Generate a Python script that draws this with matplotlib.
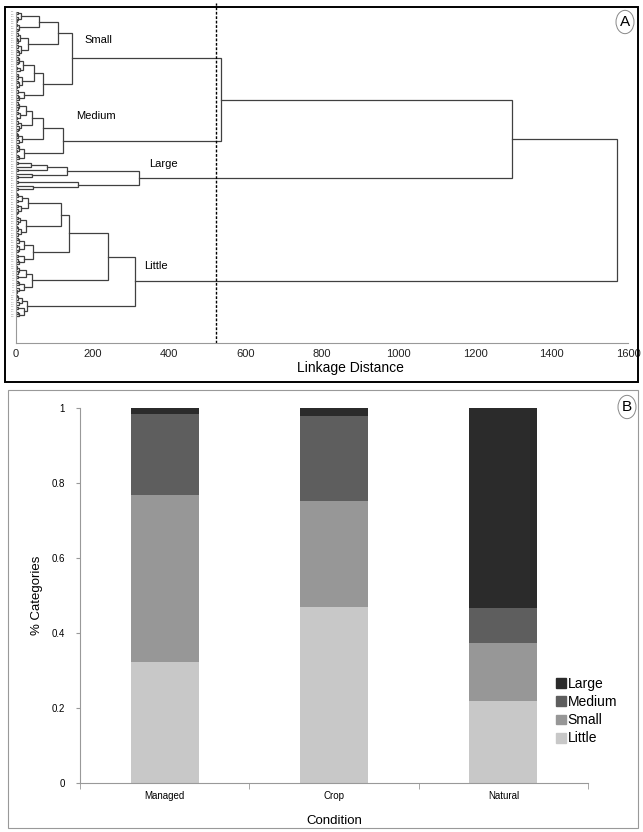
import matplotlib
matplotlib.use('Agg')
import matplotlib.pyplot as plt
from matplotlib.patches import Rectangle, Circle, Patch

plt.rcParams['font.family'] = ['Liberation Sans', 'DejaVu Sans']

W, H = 643, 832

# ---------- data: panel A (dendrogram), leaf = None ----------
o = None
small = (146,
         (110,
          (60, (12, (4, o, o), (6, o, (3, o, o))), (8, (3, o, o), (5, o, o))),
          (32, (10, (4, o, o), (6, (3, o, o), o)), (12, (5, o, o), (7, (4, o, o), o)))),
         (70,
          (47, (18, (8, (4, o, o), (5, o, o)), (10, (3, o, o), o)),
               (15, (6, (4, o, o), o), (9, (5, o, o), (3, o, o)))),
          (21, (5, o, o), (8, (4, o, o), o))))
medium = (124,
          (71,
           (42, (27, (8, (4, o, o), (5, o, o)), (10, (6, o, o), (3, o, o))),
                (12, (5, o, o), (7, o, (4, o, o)))),
           (15, (6, (3, o, o), o), (8, o, o))),
          (22, (7, (4, o, o), (3, o, o)), (9, (5, o, o), o)))
large = (322,
         (134, (82, (38, (4, o, o), o), (6, o, o)), (42, o, (5, o, o))),
         (163, (6, o, o), (45, o, (5, o, o))))
little = (311,
          (240,
           (138,
            (118,
             (31, (15, (6, (3, o, o), o), (5, o, o)), (12, (4, o, o), (6, o, (3, o, o)))),
             (26, (10, (4, o, o), (5, o, o)), (14, (6, (3, o, o), o), (4, o, o)))),
            (45, (22, (7, (4, o, o), o), (9, (3, o, o), (5, o, o))),
                 (20, (6, o, o), (8, (4, o, o), o)))),
           (42, (25, (8, (3, o, o), (5, o, o)), (6, o, o)),
                (22, (7, (4, o, o), o), (9, o, (3, o, o))))),
          (28, (15, (6, (3, o, o), o), (8, o, o)), (20, (5, o, o), (7, (4, o, o), o))))
tree = (1570, (1297, (536, small, medium), large), little)
cut_distance = 524
cluster_names = ['Small', 'Medium', 'Large', 'Little']

# ---------- data: panel B (stacked bars) ----------
conditions = ['Managed', 'Crop', 'Natural']
little_v = [0.323, 0.470, 0.218]
small_v = [0.445, 0.282, 0.155]
medium_v = [0.216, 0.226, 0.095]
large_v = [0.016, 0.022, 0.532]

fig = plt.figure(figsize=(W / 100, H / 100), dpi=100)


def rect(l, t, r, b):
    return [l / W, 1 - b / H, (r - l) / W, (b - t) / H]


# panel frames
fig.patches.append(Rectangle((5 / W, 1 - 382 / H), 633 / W, 375 / H, transform=fig.transFigure,
                             fill=False, ec='black', lw=1.4))
fig.patches.append(Rectangle((8 / W, 1 - 828 / H), 630 / W, 438 / H, transform=fig.transFigure,
                             fill=False, ec='#999999', lw=0.8))

# ---------- panel A ----------
axA = fig.add_axes(rect(16, 12, 628, 343))
leaves = []
segs = []


def place(node):
    if node is None:
        leaves.append(len(leaves))
        return leaves[-1], 0.0
    h, a, b = node
    ya, ha = place(a)
    yb, hb = place(b)
    segs.append(([ha, h, h, hb], [ya, ya, yb, yb]))
    return (ya + yb) / 2, h


place(tree)
for xs, ys in segs:
    axA.plot(xs, ys, color='#404040', lw=0.9, solid_joinstyle='miter')

y0, s = 2.0, 2.45
axA.set_ylim((343 - y0) / s, (12 - y0) / s)
axA.set_xlim(0, 1600)
axA.set_xticks(range(0, 1601, 200))
axA.tick_params(axis='x', length=0, labelsize=8, pad=4, colors='#222222')
axA.set_yticks(leaves)
axA.set_yticklabels(['%03d' % (i + 1) for i in leaves], fontsize=1.5, color='#7a7a7a')
axA.tick_params(axis='y', length=0, pad=1)
for sp in ['top', 'right']:
    axA.spines[sp].set_visible(False)
for sp in ['left', 'bottom']:
    axA.spines[sp].set_color('#999999')
    axA.spines[sp].set_linewidth(0.8)
axA.axvline(cut_distance, ymin=0, ymax=1.027, color='black', ls=(0, (2, 1.2)), lw=1.0, clip_on=False)

label_pos = {'Small': (178, (31 - y0) / s), 'Medium': (157, (109 - y0) / s),
             'Large': (348, (159 - y0) / s), 'Little': (335, (264 - y0) / s)}
for name in cluster_names:
    axA.text(*label_pos[name], name, fontsize=8, va='center', ha='left')
fig.text(350 / W, 1 - 368 / H, 'Linkage Distance', fontsize=10, ha='center', va='center')

# ---------- panel B ----------
axB = fig.add_axes(rect(80, 408, 588, 783))
colors = {'Little': '#c8c8c8', 'Small': '#979797', 'Medium': '#5e5e5e', 'Large': '#2b2b2b'}
x = range(len(conditions))
bottom = [0, 0, 0]
for name, vals in [('Little', little_v), ('Small', small_v), ('Medium', medium_v), ('Large', large_v)]:
    axB.bar(x, vals, 0.4, bottom=bottom, color=colors[name], label=name)
    bottom = [b + v for b, v in zip(bottom, vals)]

axB.set_xlim(-0.5, 2.5)
axB.set_ylim(0, 1)
axB.set_xticks(list(x))
axB.set_xticklabels(conditions)
axB.set_xticks([-0.5, 0.5, 1.5, 2.5], minor=True)
axB.tick_params(axis='x', which='major', length=0, labelsize=7, pad=6)
axB.tick_params(axis='x', which='minor', length=4, color='#999999', direction='out')
axB.set_yticks([0, 0.2, 0.4, 0.6, 0.8, 1])
axB.set_yticklabels(['0', '0.2', '0.4', '0.6', '0.8', '1'])
axB.tick_params(axis='y', length=3, color='#999999', labelsize=7, pad=8)
for sp in ['top', 'right']:
    axB.spines[sp].set_visible(False)
for sp in ['left', 'bottom']:
    axB.spines[sp].set_color('#999999')
    axB.spines[sp].set_linewidth(0.8)
axB.set_ylabel('% Categories', fontsize=9.5, labelpad=6)
axB.set_xlabel('Condition', fontsize=9.5, labelpad=10)

handles = [Patch(color=colors[n], label=n) for n in ['Large', 'Medium', 'Small', 'Little']]
fig.legend(handles=handles, loc='upper left', bbox_to_anchor=(556 / W, 1 - 677 / H),
           frameon=False, fontsize=10, handlelength=0.7, handleheight=0.7,
           handletextpad=0.15, labelspacing=0.3, borderpad=0, borderaxespad=0)

# circled panel letters
for letter, cx, cy in [('A', 625, 22), ('B', 627, 407)]:
    fig.patches.append(Circle((cx / W, 1 - cy / H), 9 / W, transform=fig.transFigure,
                              fill=False, ec='#888888', lw=0.7))
    fig.text(cx / W, 1 - cy / H, letter, fontsize=11, ha='center', va='center')

fig.savefig('out.png', dpi=100)
